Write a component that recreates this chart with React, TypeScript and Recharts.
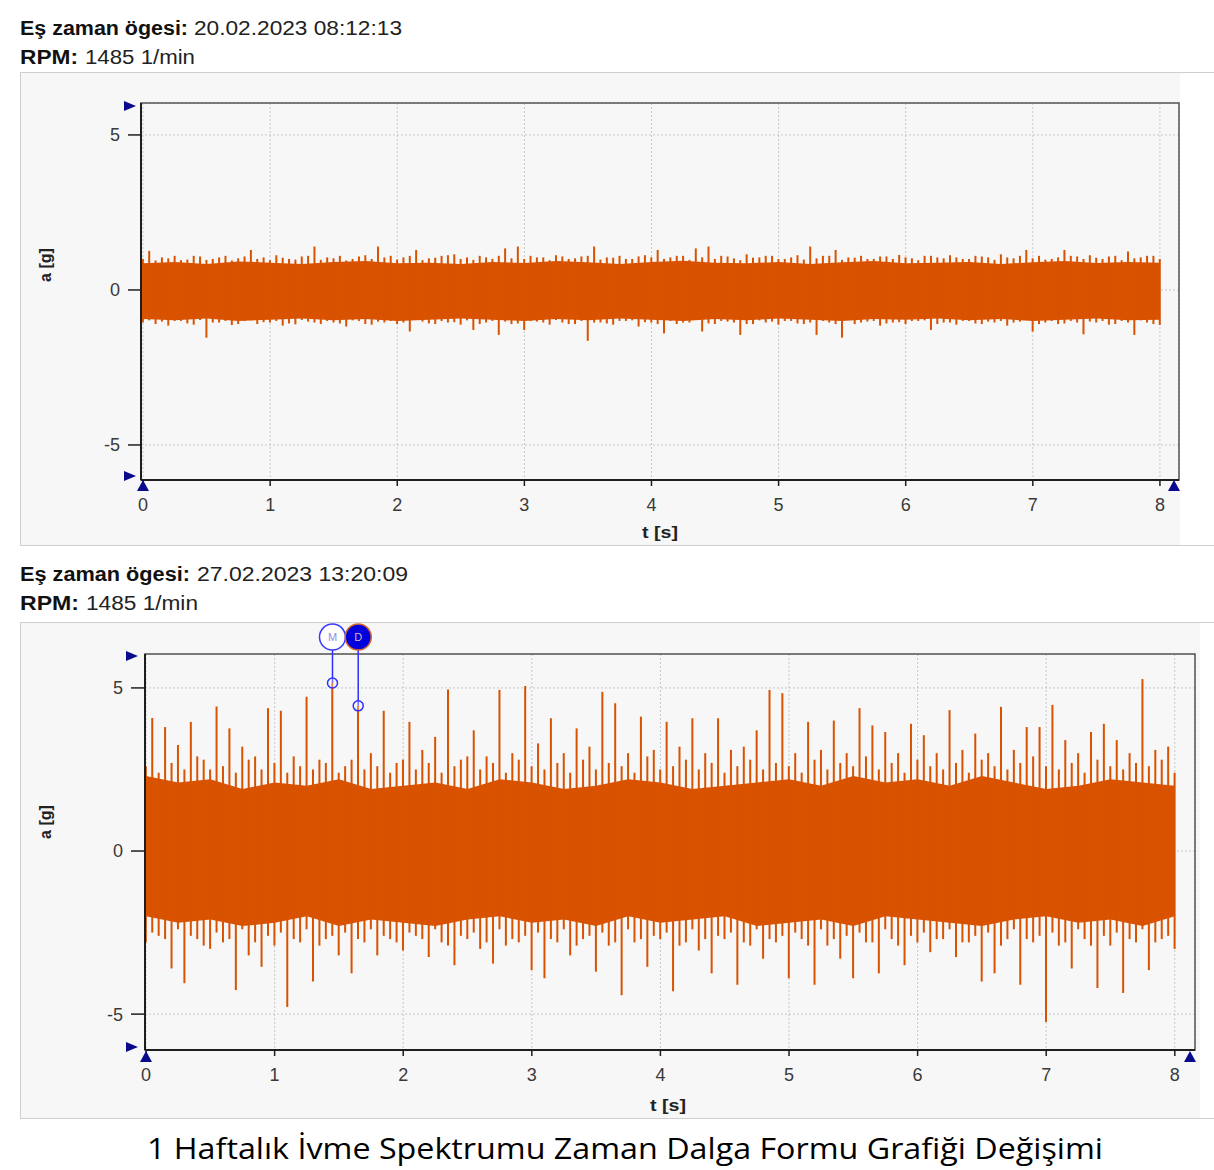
import React from "react";
import {
  ComposedChart,
  Bar,
  Area,
  XAxis,
  YAxis,
  CartesianGrid,
  ReferenceArea,
  ReferenceLine,
  ReferenceDot,
} from "recharts";

const ORANGE = "#d85200";
const NAVY = "#0a0a8c";
const FONT = "'Liberation Sans', Arial, sans-serif";
const STEP = 0.05; // spacing of the peak samples (s)
const CORE_STEP = 0.25; // spacing of the solid band envelope (s)

const timeTicks = [0, 1, 2, 3, 4, 5, 6, 7, 8];
const accelTicks = [-5, 0, 5];

// 20.02.2023 08:12:13 record: upper / lower peak per 0.05 s
const high1 = [
  1.0, 1.26, 0.95, 1.05, 1.02, 1.1, 0.96, 0.98, 1.1, 1.08,
  0.97, 1.0, 1.05, 1.1, 0.95, 1.02, 1.08, 1.29, 1.0, 1.05,
  0.96, 1.12, 1.04, 1.0, 0.98, 1.08, 1.1, 1.4, 0.97, 1.05,
  1.02, 1.1, 0.95, 1.0, 1.08, 1.12, 1.0, 1.4, 1.05, 1.1,
  0.98, 1.05, 1.1, 1.29, 0.96, 1.02, 1.04, 1.1, 1.12, 1.15,
  1.0, 1.05, 0.97, 1.1, 1.05, 1.0, 1.1, 1.34, 1.02, 1.4,
  1.0, 1.1, 1.05, 1.05, 0.96, 1.12, 1.08, 1.0, 1.02, 1.08,
  1.1, 1.4, 0.98, 1.05, 1.04, 1.1, 1.0, 1.0, 1.08, 1.12,
  1.05, 1.29, 1.0, 1.05, 1.1, 1.1, 0.97, 1.34, 1.05, 1.4,
  1.0, 1.1, 1.08, 1.02, 0.96, 1.15, 1.04, 1.05, 1.1, 1.1,
  1.0, 1.0, 1.05, 1.12, 0.98, 1.4, 1.02, 1.1, 1.1, 1.29,
  0.97, 1.05, 1.04, 1.1, 1.0, 1.0, 1.08, 1.08, 1.0, 1.13,
  1.05, 1.02, 0.96, 1.1, 1.1, 1.05, 1.02, 1.12, 1.05, 1.0,
  1.0, 1.1, 1.08, 1.05, 0.97, 1.15, 1.05, 1.02, 1.1, 1.29,
  1.02, 1.1, 0.98, 1.0, 1.05, 1.29, 1.1, 1.08, 1.0, 1.12,
  1.04, 1.0, 1.08, 1.1, 0.96, 1.24, 1.02, 1.05, 1.1, 1.1,
  1.0,
];
const low1 = [
  -1.05, -0.98, -1.1, -1.02, -1.15, -1.0, -1.0, -1.08, -1.12, -0.97,
  -1.54, -1.05, -1.05, -1.0, -1.13, -1.1, -1.0, -0.98, -1.1, -1.04,
  -1.05, -1.0, -1.15, -1.08, -1.11, -0.97, -1.02, -1.05, -1.1, -1.0,
  -1.05, -1.08, -1.18, -0.98, -1.0, -1.1, -1.12, -1.02, -1.05, -1.0,
  -1.1, -1.05, -1.34, -0.97, -1.02, -1.08, -1.1, -1.0, -1.05, -1.04,
  -1.12, -0.98, -1.29, -1.1, -1.05, -1.0, -1.45, -1.02, -1.1, -1.08,
  -1.29, -1.0, -1.02, -1.05, -1.12, -0.97, -1.05, -1.1, -1.1, -1.0,
  -1.64, -1.05, -1.05, -1.08, -1.12, -1.0, -1.0, -0.98, -1.18, -1.04,
  -1.05, -1.1, -1.4, -1.0, -1.1, -1.05, -1.05, -0.97, -1.34, -1.08,
  -1.1, -1.0, -1.02, -1.05, -1.45, -1.1, -1.1, -0.98, -1.05, -1.02,
  -1.12, -1.0, -1.0, -1.08, -1.1, -1.05, -1.45, -1.0, -1.05, -1.1,
  -1.54, -0.97, -1.1, -1.05, -1.02, -1.0, -1.15, -1.08, -1.05, -1.04,
  -1.1, -1.0, -1.0, -0.98, -1.29, -1.1, -1.05, -1.05, -1.12, -1.0,
  -1.0, -1.08, -1.1, -1.02, -1.05, -1.0, -1.15, -1.05, -1.02, -0.97,
  -1.34, -1.1, -1.05, -1.0, -1.1, -1.08, -1.0, -1.05, -1.43, -1.02,
  -1.05, -1.0, -1.12, -1.1, -1.0, -1.05, -1.45, -0.98, -1.05, -1.1,
  -1.13,
];
// solid band every 0.25 s
const coreHigh1 = [
  0.86, 0.9, 0.84, 0.92, 0.88, 0.84, 0.9, 0.93, 0.86, 0.88, 0.84, 0.9, 0.87, 0.93, 0.89, 0.84, 0.9,
  0.94, 0.88, 0.86, 0.9, 0.84, 0.89, 0.93, 0.86, 0.88, 0.9, 0.84, 0.89, 0.93, 0.87, 0.9, 0.88,
];
const coreLow1 = [
  -0.94, -0.98, -0.92, -1.0, -0.96, -0.92, -0.98, -0.94, -1.0, -0.96, -0.92, -0.96, -1.0, -0.94, -0.98, -0.92, -0.96,
  -1.0, -0.94, -0.98, -0.92, -0.96, -1.0, -0.94, -0.96, -0.92, -0.98, -0.94, -1.0, -0.96, -0.92, -0.98, -0.96,
];

// 27.02.2023 13:20:09 record
const high2 = [
  2.6, 4.08, 2.4, 3.8, 2.7, 3.25, 2.5, 3.96, 2.9, 2.8,
  2.5, 4.43, 2.6, 3.76, 2.4, 3.2, 2.8, 2.9, 2.5, 4.38,
  2.7, 4.3, 2.4, 2.9, 2.6, 4.73, 2.5, 2.8, 2.7, 5.15,
  2.4, 2.6, 2.8, 4.45, 2.5, 3.0, 2.6, 4.3, 2.4, 2.7,
  2.8, 3.96, 2.5, 3.1, 2.7, 3.5, 2.4, 4.95, 2.6, 2.8,
  2.9, 3.7, 2.5, 2.9, 2.7, 4.94, 2.4, 3.0, 2.8, 5.06,
  2.6, 3.3, 2.5, 4.07, 2.7, 3.0, 2.4, 3.76, 2.8, 3.2,
  2.5, 4.88, 2.7, 4.53, 2.6, 3.0, 2.4, 4.12, 2.9, 3.1,
  2.5, 3.96, 2.6, 3.2, 2.8, 4.07, 2.5, 3.0, 2.7, 4.07,
  2.4, 3.1, 2.6, 3.2, 2.8, 3.7, 2.5, 4.94, 2.7, 4.84,
  2.6, 3.0, 2.4, 3.96, 2.8, 3.1, 2.5, 4.0, 2.7, 3.0,
  2.6, 4.38, 2.9, 3.85, 2.5, 3.65, 2.7, 3.0, 2.4, 3.9,
  2.8, 3.55, 2.6, 3.0, 2.5, 4.32, 2.7, 3.1, 2.4, 3.6,
  2.8, 3.0, 2.6, 4.42, 2.5, 3.1, 2.7, 3.8, 2.9, 3.8,
  2.6, 4.48, 2.5, 3.4, 2.7, 3.0, 2.4, 3.65, 2.8, 3.9,
  2.6, 3.4, 2.5, 3.0, 2.7, 5.27, 2.6, 3.1, 2.8, 3.2,
  2.4,
];
const low2 = [
  -2.8, -2.5, -2.6, -2.7, -3.6, -2.4, -4.05, -2.6, -2.7, -2.9,
  -3.0, -2.5, -2.8, -2.7, -4.26, -2.4, -3.2, -2.8, -3.55, -2.6,
  -2.9, -2.5, -4.78, -2.7, -2.8, -2.4, -4.0, -2.9, -2.7, -2.6,
  -3.2, -2.5, -3.75, -2.7, -2.8, -2.4, -3.2, -2.6, -2.7, -2.8,
  -3.05, -2.5, -2.6, -2.7, -3.25, -2.4, -2.8, -2.9, -3.5, -2.6,
  -2.7, -2.5, -3.0, -2.8, -3.45, -2.4, -2.9, -2.7, -2.8, -2.6,
  -3.65, -2.5, -3.9, -2.7, -2.8, -2.4, -3.2, -2.9, -2.7, -2.6,
  -3.7, -2.5, -2.9, -2.8, -4.42, -2.4, -2.8, -2.7, -3.55, -2.6,
  -2.7, -2.5, -4.3, -2.9, -2.8, -2.4, -3.05, -2.7, -3.75, -2.6,
  -2.7, -2.5, -4.1, -2.8, -2.9, -2.4, -3.3, -2.7, -2.8, -2.6,
  -3.9, -2.5, -2.7, -2.9, -4.1, -2.4, -2.9, -2.7, -3.3, -2.6,
  -3.9, -2.5, -2.8, -2.8, -3.75, -2.4, -2.7, -2.9, -3.5, -2.6,
  -2.8, -2.5, -3.1, -2.7, -2.7, -2.4, -3.25, -2.8, -2.8, -2.6,
  -4.0, -2.5, -3.75, -2.9, -2.7, -2.4, -4.1, -2.7, -2.8, -2.6,
  -5.24, -2.5, -2.9, -2.8, -3.6, -2.4, -2.7, -2.9, -4.2, -2.6,
  -2.9, -2.5, -4.35, -2.7, -2.8, -2.4, -3.65, -2.8, -2.7, -2.6,
  -3.0,
];
const coreHigh2 = [
  2.3, 2.1, 2.2, 1.9, 2.1, 2.0, 2.2, 1.9, 2.0, 2.1, 1.9, 2.2, 2.1, 1.9, 2.0, 2.2, 2.1,
  1.9, 2.0, 2.1, 2.2, 2.0, 2.3, 2.1, 2.2, 2.0, 2.3, 2.1, 1.9, 2.0, 2.2, 2.1, 2.0,
];
const coreLow2 = [
  -2.0, -2.2, -2.1, -2.3, -2.2, -2.0, -2.3, -2.1, -2.2, -2.3, -2.1, -2.0, -2.2, -2.1, -2.3, -2.0, -2.2,
  -2.1, -2.0, -2.3, -2.2, -2.1, -2.3, -2.0, -2.1, -2.2, -2.3, -2.1, -2.0, -2.2, -2.1, -2.3, -2.0,
];

const markerTimes = [1.45, 1.65];
const markerValues = [5.15, 4.45];
const markerLabels = ["M", "D"];

// one vertical stroke [low, high] per sample, core band on every fifth sample
function buildRows(high: number[], low: number[], coreHi: number[], coreLo: number[]) {
  const ratio = Math.round(CORE_STEP / STEP);
  return high.map((h, i) => {
    const row: any = { t: Math.round(i * STEP * 100) / 100, stroke: [low[i], h] };
    if (i % ratio === 0) row.core = [coreLo[i / ratio], coreHi[i / ratio]];
    return row;
  });
}

const rows1 = buildRows(high1, low1, coreHigh1, coreLow1);
const rows2 = buildRows(high2, low2, coreHigh2, coreLow2);

interface WaveChartProps {
  rows: any[];
  width: number;
  height: number;
  margin: { top: number; right: number; bottom: number; left: number };
  xDomain: [number, number];
  yDomain: [number, number];
  yTickSize: number;
  showMarkers?: boolean;
}

const WaveChart: React.FC<WaveChartProps> = ({ rows, width, height, margin, xDomain, yDomain, yTickSize, showMarkers }) => {
  const markerTop = yDomain[1] + 0.52;
  return (
    <ComposedChart width={width} height={height} data={rows} margin={margin} barGap={0}>
      <CartesianGrid stroke="#c6c6c6" strokeDasharray="2 2" />
      <XAxis
        dataKey="t"
        type="number"
        domain={xDomain}
        ticks={timeTicks}
        interval={0}
        allowDataOverflow
        height={40}
        tickSize={6}
        tickMargin={12}
        axisLine={{ stroke: "#1e1e1e", strokeWidth: 2 }}
        tickLine={{ stroke: "#1e1e1e", strokeWidth: 1.5 }}
        tick={{ fill: "#3a3a3a", fontSize: 18, fontFamily: FONT }}
      />
      <YAxis
        type="number"
        domain={yDomain}
        ticks={accelTicks}
        interval={0}
        allowDataOverflow
        width={40}
        tickSize={yTickSize}
        tickMargin={8}
        axisLine={{ stroke: "#1e1e1e", strokeWidth: 2 }}
        tickLine={{ stroke: "#1e1e1e", strokeWidth: 1.5 }}
        tick={{ fill: "#3a3a3a", fontSize: 18, fontFamily: FONT }}
      />
      <ReferenceArea
        x1={xDomain[0]}
        x2={xDomain[1]}
        y1={yDomain[0]}
        y2={yDomain[1]}
        fill="none"
        stroke="#555"
        strokeWidth={1.5}
        ifOverflow="visible"
      />
      <Area
        type="linear"
        dataKey="core"
        connectNulls
        stroke="none"
        fill={ORANGE}
        fillOpacity={1}
        isAnimationActive={false}
      />
      <Bar dataKey="stroke" fill={ORANGE} barSize={2} isAnimationActive={false} />
      {showMarkers &&
        markerTimes.map((t, i) => (
          <ReferenceLine
            key={`ml${i}`}
            segment={[
              { x: t, y: markerValues[i] },
              { x: t, y: markerTop },
            ]}
            stroke="#2f2fff"
            strokeWidth={1.5}
            ifOverflow="visible"
          />
        ))}
      {showMarkers &&
        markerTimes.map((t, i) => (
          <ReferenceDot
            key={`md${i}`}
            x={t}
            y={markerValues[i]}
            r={5}
            fill="#ffffff"
            fillOpacity={0.3}
            stroke="#2f2fff"
            strokeWidth={1.5}
            ifOverflow="visible"
          />
        ))}
      {showMarkers &&
        markerTimes.map((t, i) => (
          <ReferenceDot
            key={`mc${i}`}
            x={t}
            y={markerTop}
            r={13}
            fill={i === 0 ? "#ffffff" : "#0000dd"}
            stroke={i === 0 ? "#3b3bff" : "#d0642c"}
            strokeWidth={1.5}
            ifOverflow="visible"
            label={{
              value: markerLabels[i],
              position: "center",
              fill: i === 0 ? "#9090e0" : "#d8b4b4",
              fontSize: 11,
              fontFamily: FONT,
            }}
          />
        ))}
    </ComposedChart>
  );
};

const RightTri = ({ x, y }: { x: number; y: number }) => (
  <polygon points={`${x},${y - 5} ${x + 12},${y} ${x},${y + 5}`} fill={NAVY} />
);
const UpTri = ({ x, y }: { x: number; y: number }) => (
  <polygon points={`${x - 6},${y + 11} ${x},${y} ${x + 6},${y + 11}`} fill={NAVY} />
);

const Header = ({ y, stamp, boldLen, valueX, valueLen, rpmBoldLen, rpmX, rpmLen }: any) => (
  <g fontFamily={FONT} fontSize={20}>
    <text x={20} y={y} fontWeight="bold" fill="#111" textLength={boldLen} lengthAdjust="spacingAndGlyphs">
      Eş zaman ögesi:
    </text>
    <text x={valueX} y={y} fill="#222" textLength={valueLen} lengthAdjust="spacingAndGlyphs">
      {stamp}
    </text>
    <text x={20} y={y + 29} fontWeight="bold" fill="#111" textLength={rpmBoldLen} lengthAdjust="spacingAndGlyphs">
      RPM:
    </text>
    <text x={rpmX} y={y + 29} fill="#222" textLength={rpmLen} lengthAdjust="spacingAndGlyphs">
      1485 1/min
    </text>
  </g>
);

export default function App() {
  return (
    <div
      style={{
        position: "absolute",
        left: 0,
        top: 0,
        width: 1214,
        height: 1170,
        background: "#ffffff",
        overflow: "hidden",
        fontFamily: FONT,
      }}
    >
      {/* panel frames */}
      <div style={{ position: "absolute", left: 20, top: 72, width: 1200, height: 472, borderTop: "1px solid #cfcfcf", borderBottom: "1px solid #cfcfcf", borderLeft: "1px solid #cfcfcf" }} />
      <div style={{ position: "absolute", left: 21, top: 73, width: 1159, height: 472, background: "#f7f7f7" }} />
      <div style={{ position: "absolute", left: 20, top: 622, width: 1200, height: 495, borderTop: "1px solid #cfcfcf", borderBottom: "1px solid #cfcfcf", borderLeft: "1px solid #cfcfcf" }} />
      <div style={{ position: "absolute", left: 21, top: 623, width: 1179, height: 495, background: "#f7f7f7" }} />

      <div style={{ position: "absolute", left: 20, top: 72 }}>
        <WaveChart
          rows={rows1}
          width={1160}
          height={473}
          margin={{ top: 31, right: 1, bottom: 25, left: 81 }}
          xDomain={[-0.016, 8.15]}
          yDomain={[-6.13, 6.03]}
          yTickSize={13}
        />
      </div>
      <div style={{ position: "absolute", left: 20, top: 622 }}>
        <WaveChart
          rows={rows2}
          width={1180}
          height={496}
          margin={{ top: 32, right: 5, bottom: 28, left: 85 }}
          xDomain={[-0.008, 8.157]}
          yDomain={[-6.1, 6.04]}
          yTickSize={14}
          showMarkers
        />
      </div>

      <svg
        width={1214}
        height={1170}
        style={{ position: "absolute", left: 0, top: 0, pointerEvents: "none" }}
      >
        <Header y={35} stamp="20.02.2023 08:12:13" boldLen={168} valueX={194} valueLen={208} rpmBoldLen={58} rpmX={85} rpmLen={110} />
        <Header y={581} stamp="27.02.2023 13:20:09" boldLen={170} valueX={197} valueLen={211} rpmBoldLen={59} rpmX={86} rpmLen={112} />

        <text x={0} y={0} transform="translate(51 265) rotate(-90)" textAnchor="middle" fontFamily={FONT} fontWeight="bold" fontSize={16} fill="#222">
          a [g]
        </text>
        <text x={0} y={0} transform="translate(51 822) rotate(-90)" textAnchor="middle" fontFamily={FONT} fontWeight="bold" fontSize={16} fill="#222">
          a [g]
        </text>
        <text x={660} y={538} textAnchor="middle" fontFamily={FONT} fontWeight="bold" fontSize={17} fill="#222" textLength={36} lengthAdjust="spacingAndGlyphs">
          t [s]
        </text>
        <text x={668} y={1111} textAnchor="middle" fontFamily={FONT} fontWeight="bold" fontSize={17} fill="#222" textLength={36} lengthAdjust="spacingAndGlyphs">
          t [s]
        </text>

        <RightTri x={124} y={106} />
        <RightTri x={124} y={476} />
        <UpTri x={143} y={480} />
        <UpTri x={1174} y={480} />
        <RightTri x={126} y={656} />
        <RightTri x={126} y={1047} />
        <UpTri x={146} y={1051} />
        <UpTri x={1190} y={1051} />

        <text x={147} y={1159} fontFamily="'Open Sans', 'Noto Sans', sans-serif" fontSize={30} fill="#000" textLength={956} lengthAdjust="spacingAndGlyphs">
          1 Haftalık İvme Spektrumu Zaman Dalga Formu Grafiği Değişimi
        </text>
      </svg>
    </div>
  );
}
